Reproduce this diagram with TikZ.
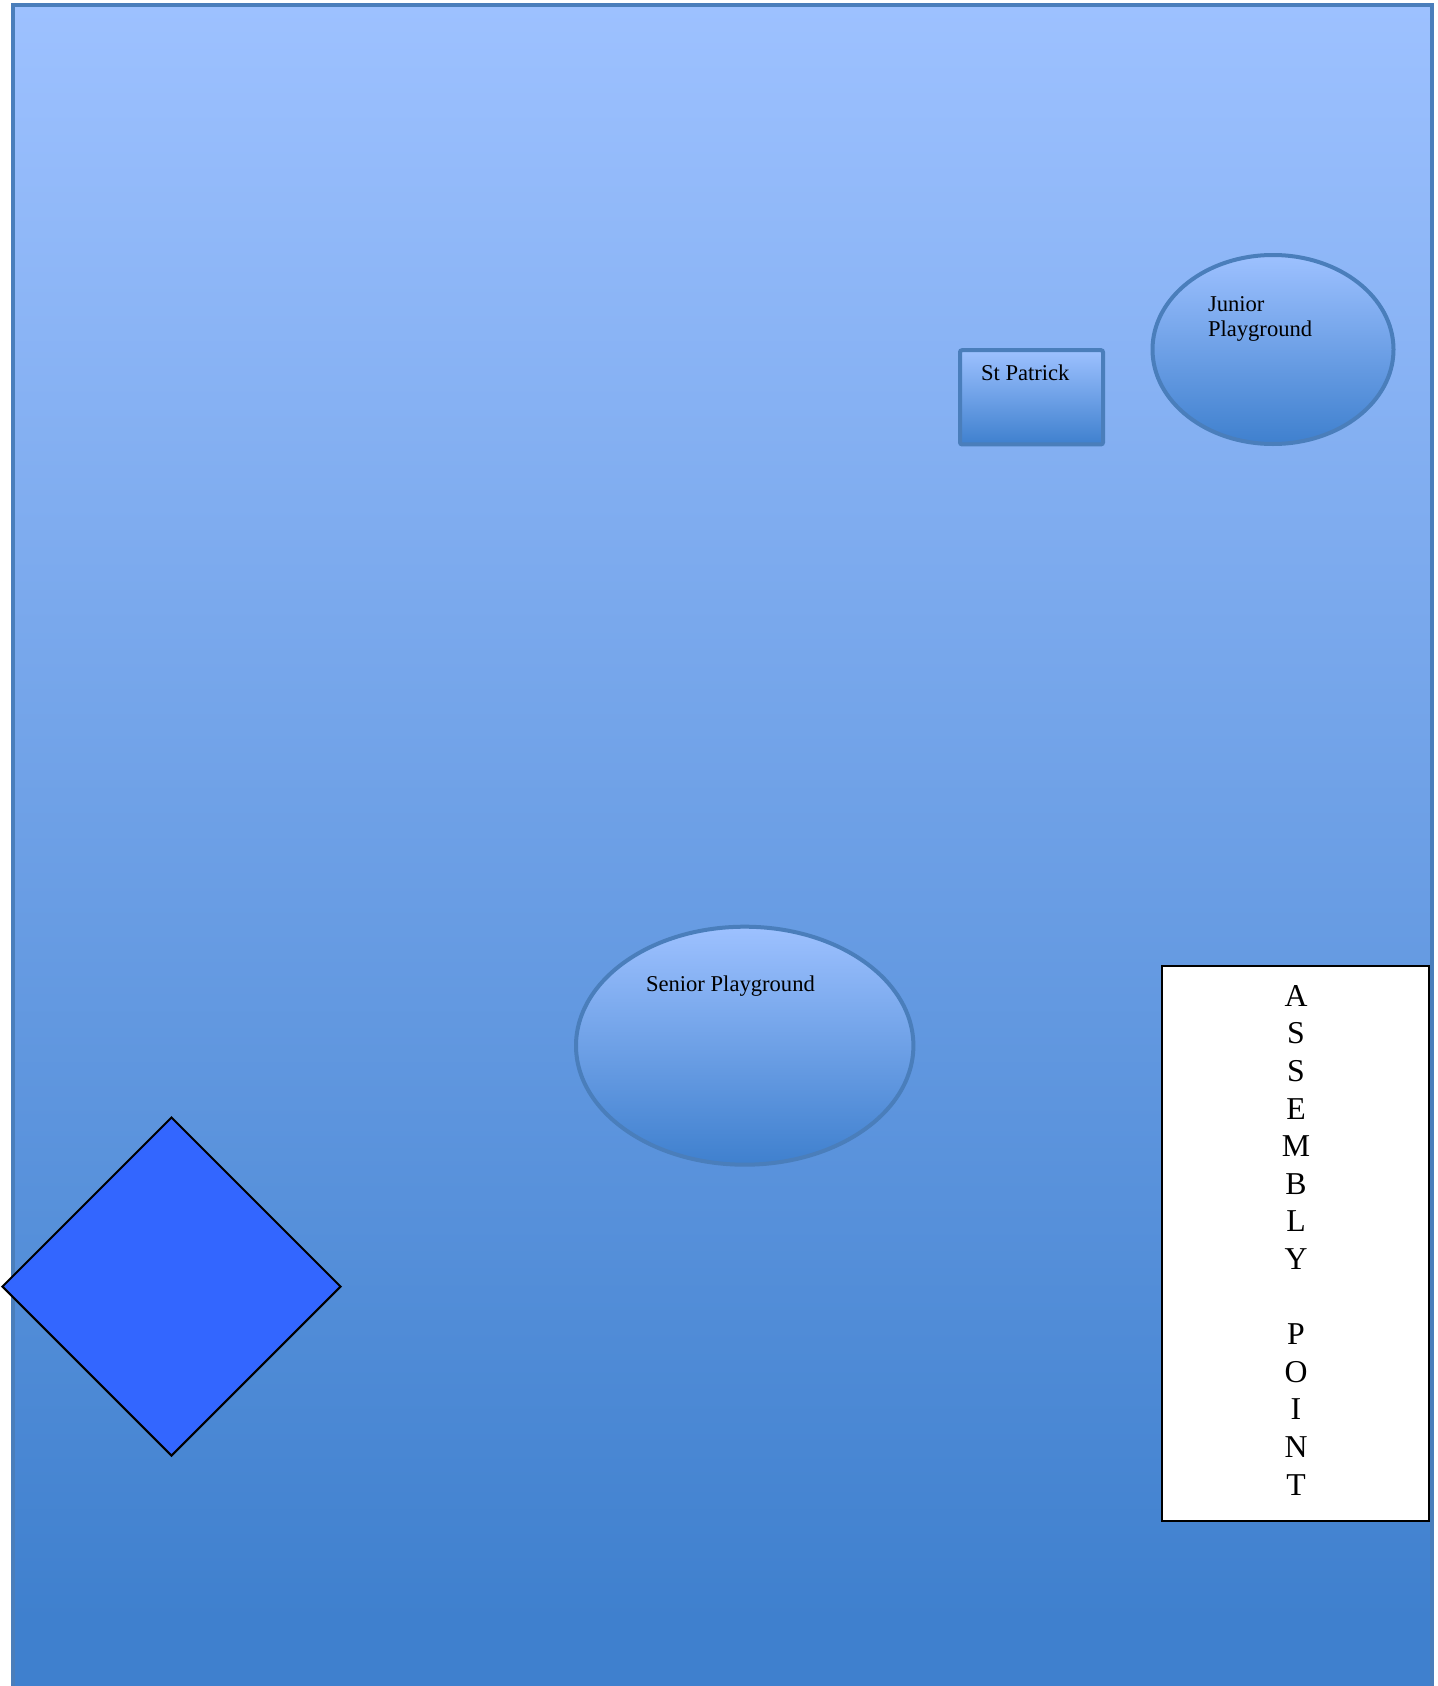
\documentclass[tikz,border=0pt]{standalone}
\usepackage{fontspec}
\setmainfont{Liberation Serif}
\usetikzlibrary{shapes.geometric}
\definecolor{lightb}{RGB}{157,193,255}
\definecolor{darkb}{RGB}{63,128,206}
\definecolor{borderb}{RGB}{74,126,187}
\definecolor{diamondb}{RGB}{51,102,255}
\tikzset{
  gradshape/.style={top color=lightb, bottom color=darkb, draw=borderb, line width=2pt, inner sep=0pt, outer sep=0pt},
  smalltext/.style={font=\fontsize{11.3}{12.5}\selectfont, inner sep=0pt, outer sep=0pt},
  bigtext/.style={font=\fontsize{15.9}{18.8}\selectfont, inner sep=0pt, outer sep=0pt},
  frameline/.style={draw=borderb, line width=2pt},
}
\begin{document}
\begin{tikzpicture}[x=0.5pt,y=-0.5pt]
\useasboundingbox (0,0) rectangle (1438,1686);
\begin{scope}
\clip (0,0) rectangle (1438,1686);
\shade[top color=lightb, bottom color=darkb] (13,5.5) rectangle (1431.5,1620);
\fill[darkb] (13,1619) rectangle (1431.5,1690);
\draw[frameline] (13,1700) -- (13,5.5) -- (1431.5,5.5) -- (1431.5,1700);
\end{scope}
% St Patrick building
\node[gradshape, rectangle, rounded corners=1pt, minimum width=71.5pt, minimum height=47.1pt] (stp) at (1031.5,397.3) {};
\node[smalltext, anchor=base west] (stptext) at (981,380) {St Patrick};
% Junior playground
\node[gradshape, ellipse, minimum width=120.5pt, minimum height=94.5pt] (junior) at (1273,349.5) {};
\node[smalltext, anchor=base west, align=left] (juniortext) at (1208,336.7) {Junior\\Playground};
% Senior playground
\node[gradshape, ellipse, minimum width=168.7pt, minimum height=119pt] (senior) at (744.7,1045.7) {};
\node[smalltext, anchor=base west] (seniortext) at (646,991) {Senior Playground};
% Diamond
\node[diamond, aspect=1, fill=diamondb, draw=black, line width=1pt, inner sep=0pt, minimum width=169.5pt, minimum height=169.5pt] (dia) at (171.5,1286.5) {};
% Assembly point
\node[rectangle, fill=white, draw=black, line width=1.35pt, minimum width=133.5pt, minimum height=277.5pt, inner sep=0pt] (assembly) at (1295.5,1243.5) {};
\node[bigtext, anchor=base, align=center] (assemblytext) at (1296,1495) {A\\S\\S\\E\\M\\B\\L\\Y\\\mbox{}\\P\\O\\I\\N\\T};
\end{tikzpicture}
\end{document}
